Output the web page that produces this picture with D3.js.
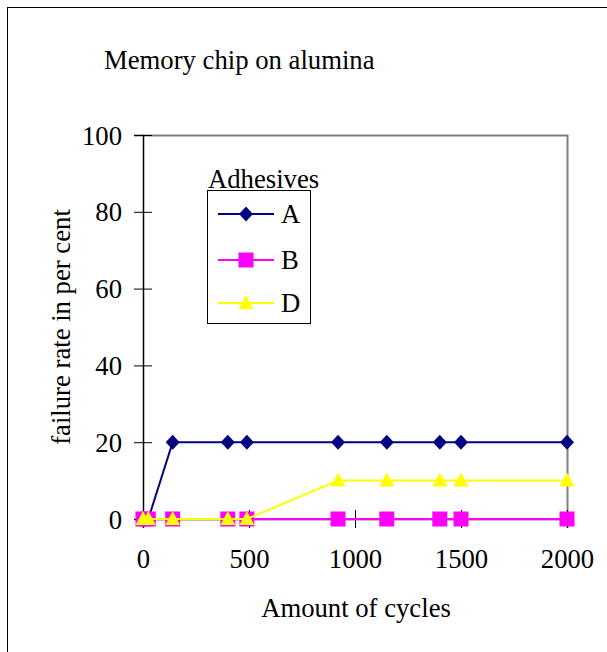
<!DOCTYPE html>
<html>
<head>
<meta charset="utf-8">
<script src="https://cdn.jsdelivr.net/npm/d3@7"></script>
<style>
  html, body { margin: 0; padding: 0; background: #fff; }
  svg { display: block; font-family: "Liberation Serif", "Times New Roman", serif; }
</style>
</head>
<body>
<svg id="chart" width="607" height="652"></svg>
<script>
// Thermal cycling results: failure rate per adhesive
const cycles = [0, 25, 140, 400, 490, 920, 1150, 1400, 1500, 2000];
const seriesA = [0, 0, 20, 20, 20, 20, 20, 20, 20, 20];
const seriesB = [0, 0, 0, 0, 0, 0, 0, 0, 0, 0];
const seriesD = [0, 0, 0, 0, 0, 10, 10, 10, 10, 10];
const seriesNames = ["A", "B", "D"];
const xTicks = [0, 500, 1000, 1500, 2000];
const yTicks = [0, 20, 40, 60, 80, 100];

const FS = 26.7;
const svg = d3.select("#chart");

// outer frame
svg.append("rect").attr("x", 7.5).attr("y", 7.5).attr("width", 640).attr("height", 700)
  .attr("fill", "none").attr("stroke", "#000").attr("stroke-width", 1);

const plot = { left: 143, right: 567, top: 135, bottom: 519 };
const x = d3.scaleLinear().domain([0, 2000]).range([plot.left, plot.right]);
const y = d3.scaleLinear().domain([0, 100]).range([plot.bottom, plot.top]);

// plot area border (top and right)
svg.append("path")
  .attr("d", `M${plot.left},${plot.top + 0.5}H${plot.right + 0.5}V${plot.bottom}`)
  .attr("fill", "none").attr("stroke", "#808080").attr("stroke-width", 2);

// axes with ticks crossing the axis line
const yAxis = svg.append("g").attr("transform", `translate(${plot.left},0)`)
  .call(d3.axisLeft(y).tickValues(yTicks).tickFormat(d3.format("d")).tickSize(9));
yAxis.selectAll(".tick line").attr("x2", 9).attr("x1", -9).attr("stroke", "#000");
yAxis.select(".domain").attr("stroke", "#000").attr("stroke-width", 1.5);
yAxis.selectAll("text").attr("font-size", FS).attr("fill", "#000")
  .attr("font-family", "Liberation Serif").attr("x", -21).attr("dy", "0.34em");

const xAxis = svg.append("g").attr("transform", `translate(0,${plot.bottom})`)
  .call(d3.axisBottom(x).tickValues(xTicks).tickFormat(d3.format("d")).tickSize(9));
xAxis.selectAll(".tick line").attr("y1", -9).attr("y2", 9).attr("stroke", "#000");
xAxis.select(".domain").attr("stroke", "#000").attr("stroke-width", 1.5);
xAxis.selectAll("text").attr("font-size", FS).attr("fill", "#000")
  .attr("font-family", "Liberation Serif").attr("y", 49).attr("dy", 0);

// marker shapes
const diamond = { draw(ctx) { ctx.moveTo(0, -7.5); ctx.lineTo(7, 0); ctx.lineTo(0, 7.5); ctx.lineTo(-7, 0); ctx.closePath(); } };
const square = { draw(ctx) { ctx.rect(-7.5, -7.5, 15, 15); } };
const triangle = { draw(ctx) { ctx.moveTo(0, -8); ctx.lineTo(7.5, 6); ctx.lineTo(-7.5, 6); ctx.closePath(); } };

const series = [
  { name: seriesNames[0], values: seriesA, color: "#000080", shape: diamond },
  { name: seriesNames[1], values: seriesB, color: "#FF00FF", shape: square },
  { name: seriesNames[2], values: seriesD, color: "#FFFF00", shape: triangle }
];

const line = d3.line().x(d => x(d[0])).y(d => y(d[1]));

series.forEach(s => {
  const pts = cycles.map((c, i) => [c, s.values[i]]);
  const g = svg.append("g");
  g.append("path").datum(pts).attr("d", line)
    .attr("fill", "none").attr("stroke", s.color).attr("stroke-width", 2);
  g.selectAll("path.m").data(pts).join("path").attr("class", "m")
    .attr("transform", d => `translate(${x(d[0])},${y(d[1])})`)
    .attr("d", d3.symbol().type(s.shape))
    .attr("fill", s.color);
});

// title and axis labels
svg.append("text").attr("x", 104).attr("y", 69).attr("font-size", FS)
  .text("Memory chip on alumina");
svg.append("text").attr("x", 356).attr("y", 617).attr("text-anchor", "middle")
  .attr("font-size", FS).text("Amount of cycles");
svg.append("text").attr("transform", "translate(70,327) rotate(-90)")
  .attr("text-anchor", "middle").attr("font-size", FS).text("failure rate in per cent");

// legend
const legend = svg.append("g");
legend.append("rect").attr("x", 207.5).attr("y", 190.5).attr("width", 103).attr("height", 133)
  .attr("fill", "#fff").attr("stroke", "#000").attr("stroke-width", 1);
legend.append("text").attr("x", 208).attr("y", 188).attr("font-size", FS).text("Adhesives");
const rowY = [214, 260, 303];
series.forEach((s, i) => {
  const yy = rowY[i];
  legend.append("line").attr("x1", 218).attr("x2", 274).attr("y1", yy).attr("y2", yy)
    .attr("stroke", s.color).attr("stroke-width", 2);
  legend.append("path").attr("transform", `translate(246,${yy})`)
    .attr("d", d3.symbol().type(s.shape)).attr("fill", s.color);
  legend.append("text").attr("x", 281).attr("y", yy + 9).attr("font-size", FS).text(s.name);
});
</script>
</body>
</html>
